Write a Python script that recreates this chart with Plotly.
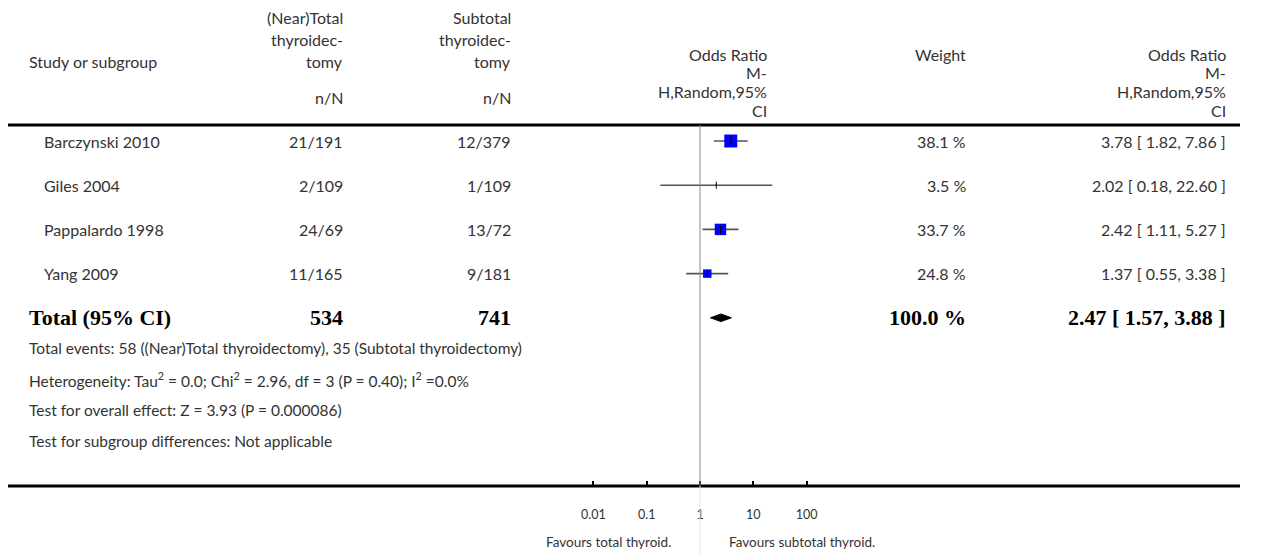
import plotly.graph_objects as go

# ---------------- data ----------------
studies = ["Barczynski 2010", "Giles 2004", "Pappalardo 1998", "Yang 2009"]
events_total = ["21/191", "2/109", "24/69", "11/165"]
events_subtotal = ["12/379", "1/109", "13/72", "9/181"]
odds_ratio = [3.78, 2.02, 2.42, 1.37]
ci_low = [1.82, 0.18, 1.11, 0.55]
ci_high = [7.86, 22.60, 5.27, 3.38]
weights = [38.1, 3.5, 33.7, 24.8]

total_label = "Total (95% CI)"
total_n1 = 534
total_n2 = 741
total_or = 2.47
total_low = 1.57
total_high = 3.88
total_weight = 100.0

footer_lines = [
    "Total events: 58 ((Near)Total thyroidectomy), 35 (Subtotal thyroidectomy)",
    "Heterogeneity: Tau<sup>2</sup> = 0.0; Chi<sup>2</sup> = 2.96, df = 3 (P = 0.40); I<sup>2</sup> =0.0%",
    "Test for overall effect: Z = 3.93 (P = 0.000086)",
    "Test for subgroup differences: Not applicable",
]
tick_vals = [0.01, 0.1, 1, 10, 100]
tick_text = ["0.01", "0.1", "1", "10", "100"]
favours_left = "Favours total thyroid."
favours_right = "Favours subtotal thyroid."

# ---------------- layout helpers ----------------
W, H = 1268, 556
FONT = "Lato"
SERIF = "Liberation Serif"
TXT = "#333333"
FS = 16

def px(x):
    return x / W

def py(y):
    return 1 - y / H

# forest axis mapping: OR=1 at pixel 700, 53.3 px per decade
X1 = 700.0
DEC = 53.3
xr = [(0 - X1) / DEC, (W - X1) / DEC]

# row mapping: row i centred at pixel 141 + 44*i
ROW0, ROWH = 141.0, 44.2
AXIS_Y = 486.0
yr = [(AXIS_Y - ROW0) / ROWH, (0 - ROW0) / ROWH]

fig = go.Figure()

# CI lines
cx, cy = [], []
for i in range(len(studies)):
    cx += [ci_low[i], ci_high[i], None]
    cy += [i, i, None]
fig.add_trace(go.Scatter(x=cx, y=cy, mode="lines",
                         line=dict(color="#555555", width=1.6),
                         hoverinfo="skip", showlegend=False))
# weight squares
fig.add_trace(go.Scatter(x=odds_ratio, y=list(range(len(studies))), mode="markers",
                         marker=dict(symbol="square", color="#0000FF", opacity=1,
                                     size=[w * 0.34 for w in weights],
                                     line=dict(width=0)),
                         hoverinfo="skip", showlegend=False))
# centre ticks
fig.add_trace(go.Scatter(x=odds_ratio, y=list(range(len(studies))), mode="markers",
                         marker=dict(symbol="line-ns", size=5, opacity=1,
                                     line=dict(color="black", width=1)),
                         hoverinfo="skip", showlegend=False))
# diamond
ti = len(studies)
hh = 3.8 / ROWH
fig.add_trace(go.Scatter(x=[total_low, total_or, total_high, total_or, total_low],
                         y=[ti, ti - hh, ti, ti + hh, ti], mode="lines",
                         fill="toself", fillcolor="black",
                         line=dict(color="black", width=1),
                         hoverinfo="skip", showlegend=False))

LINE_L, LINE_R = 8, 1240
shapes = [
    dict(type="line", xref="paper", yref="paper", x0=px(LINE_L), x1=px(LINE_R),
         y0=py(125), y1=py(125), line=dict(color="black", width=3)),
    dict(type="line", xref="paper", yref="paper", x0=px(LINE_L), x1=px(LINE_R),
         y0=py(AXIS_Y), y1=py(AXIS_Y), line=dict(color="black", width=3)),
    dict(type="line", xref="x", yref="paper", x0=1, x1=1,
         y0=py(AXIS_Y), y1=py(125), line=dict(color="#888888", width=1)),
    dict(type="line", xref="x", yref="paper", x0=1, x1=1,
         y0=0, y1=py(AXIS_Y), line=dict(color="#e8e8e8", width=1)),
]

ann = []

def text(t, x, y, anchor="right", size=FS, family=FONT, color=TXT, yref="paper"):
    ann.append(dict(text=t, x=px(x), y=(py(y) if yref == "paper" else y),
                    xref="paper", yref=yref, xanchor=anchor, yanchor="middle",
                    showarrow=False, font=dict(family=family, size=size, color=color)))

C2, C3, C4, C5, C6 = 345, 513, 769, 968, 1228

# headers
text("Study or subgroup", 27, 62, "left")
for j, t in enumerate(["(Near)Total", "thyroidec-", "tomy"]):
    text(t, C2, 17 + 22.5 * j)
text("n/N", C2, 97)
for j, t in enumerate(["Subtotal", "thyroidec-", "tomy"]):
    text(t, C3, 17 + 22.5 * j)
text("n/N", C3, 97)
for j, t in enumerate(["Odds Ratio", "M-", "H,Random,95%", "CI"]):
    text(t, C4, 54 + 19 * j)
    text(t, C6, 54 + 19 * j)
text("Weight", C5, 54)

# study rows
for i in range(len(studies)):
    text(studies[i], 42, i, "left", yref="y")
    text(events_total[i], C2, i, yref="y")
    text(events_subtotal[i], C3, i, yref="y")
    text(f"{weights[i]:.1f} %", C5, i, yref="y")
    text(f"{odds_ratio[i]:.2f} [ {ci_low[i]:.2f}, {ci_high[i]:.2f} ]", C6, i, yref="y")

# total row
BS = 22
text(f"<b>{total_label}</b>", 27, ti, "left", size=BS, family=SERIF, color="black", yref="y")
text(f"<b>{total_n1}</b>", C2, ti, size=BS, family=SERIF, color="black", yref="y")
text(f"<b>{total_n2}</b>", C3, ti, size=BS, family=SERIF, color="black", yref="y")
text(f"<b>{total_weight:.1f} %</b>", C5, ti, size=BS, family=SERIF, color="black", yref="y")
text(f"<b>{total_or:.2f} [ {total_low:.2f}, {total_high:.2f} ]</b>", C6, ti,
     size=BS, family=SERIF, color="black", yref="y")

for j, t in enumerate(footer_lines):
    text(t, 27, 348 + 31 * j, "left", size=15.5)

text(favours_left, 673, 542, "right", size=13.5)
text(favours_right, 727, 542, "left", size=13.5)

fig.update_layout(
    width=W, height=H, margin=dict(l=0, r=0, t=0, b=0),
    paper_bgcolor="white", plot_bgcolor="white",
    shapes=shapes, annotations=ann, showlegend=False,
    xaxis=dict(type="log", range=xr, domain=[0, 1], showgrid=False, zeroline=False,
               showline=False, tickmode="array", tickvals=tick_vals, ticktext=tick_text,
               ticks="inside", ticklen=5, tickwidth=2, tickcolor="black",
               tickfont=dict(family=FONT, size=12.5, color=TXT), ticklabelstandoff=19,
               fixedrange=True),
    yaxis=dict(range=yr, domain=[(H - AXIS_Y) / H, 1], visible=False, fixedrange=True),
)

fig.write_html("out.html")
